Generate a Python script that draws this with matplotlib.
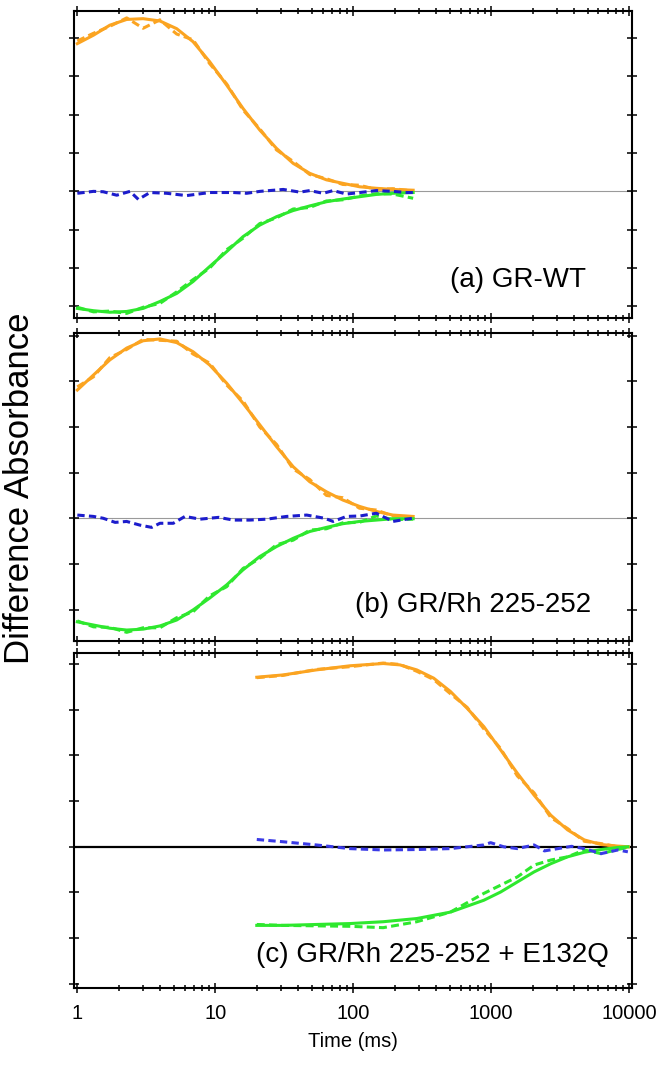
import numpy as np
import matplotlib
matplotlib.use("Agg")
import matplotlib.pyplot as plt
from matplotlib.ticker import LogLocator, NullFormatter, FixedLocator, FixedFormatter

plt.rcParams['font.family'] = ['Liberation Sans', 'DejaVu Sans']

# ---------------- panel (a) GR-WT ----------------
t_a = [1.00, 1.31, 1.72, 2.28, 3.0, 3.97, 5.25, 6.9, 9.1, 12.1, 15.9, 21, 27.8,
       36.7, 48.4, 64, 84, 111, 147, 194, 272]
orange_fit_a = [3.85, 4.07, 4.33, 4.48, 4.50, 4.44, 4.24, 3.90, 3.38, 2.77, 2.16,
                1.60, 1.12, 0.73, 0.47, 0.30, 0.21, 0.12, 0.08, 0.05, 0.03]
orange_dat_a = [3.92, 4.12, 4.30, 4.52, 4.25, 4.47, 4.10, 3.95, 3.33, 2.80, 2.12,
                1.63, 1.08, 0.78, 0.44, 0.33, 0.18, 0.16, 0.05, 0.07, 0.01]
green_fit_a = [-3.05, -3.11, -3.15, -3.13, -3.05, -2.87, -2.66, -2.35, -1.96, -1.57,
               -1.18, -0.88, -0.66, -0.50, -0.38, -0.27, -0.20, -0.14, -0.08, -0.05, -0.03]
green_dat_a = [-3.02, -3.14, -3.12, -3.18, -3.02, -2.92, -2.62, -2.30, -2.00, -1.52,
               -1.22, -0.84, -0.69, -0.46, -0.42, -0.25, -0.22, -0.12, -0.06, -0.07, -0.18]
t_blue_a = [1.00, 1.31, 1.54, 1.93, 2.41, 2.77, 3.36, 4.44, 6.19, 9.15, 13.5, 16.9,
            21.1, 31.1, 41.1, 48.4, 60.6, 71.6, 89.3, 112, 147, 194, 243, 272]
blue_a = [-0.05, 0.0, -0.01, -0.10, 0.0, -0.21, -0.03, -0.05, -0.11, -0.03, -0.03,
          -0.05, 0.0, 0.05, -0.02, 0.02, -0.05, 0.02, -0.07, -0.03, 0.02, 0.0, -0.03, -0.03]

# ---------------- panel (b) GR/Rh 225-252 ----------------
t_b = t_a
orange_fit_b = [2.81, 3.14, 3.47, 3.73, 3.89, 3.93, 3.85, 3.65, 3.36, 2.96, 2.52,
                2.05, 1.57, 1.13, 0.80, 0.58, 0.40, 0.26, 0.15, 0.07, 0.04]
orange_dat_b = [2.88, 3.10, 3.52, 3.70, 3.92, 3.90, 3.88, 3.60, 3.40, 2.92, 2.57,
                2.00, 1.62, 1.08, 0.85, 0.50, 0.45, 0.22, 0.18, 0.05, 0.03]
green_fit_b = [-2.27, -2.34, -2.41, -2.45, -2.43, -2.36, -2.23, -2.01, -1.75, -1.46,
               -1.13, -0.84, -0.62, -0.44, -0.29, -0.20, -0.12, -0.07, -0.04, -0.01, -0.01]
green_dat_b = [-2.25, -2.38, -2.39, -2.50, -2.40, -2.40, -2.18, -2.05, -1.70, -1.50,
               -1.10, -0.88, -0.58, -0.48, -0.26, -0.23, -0.10, -0.09, 0.05, -0.03, -0.02]
t_blue_b = [1.00, 1.31, 1.54, 1.88, 2.28, 2.84, 3.46, 3.97, 4.96, 6.03, 7.76, 10.6,
            13.5, 17.8, 23.6, 32.9, 46.0, 61.9, 71.6, 89.3, 112, 147, 194, 243, 272]
blue_b = [0.07, 0.04, 0.0, -0.09, -0.07, -0.15, -0.20, -0.11, -0.11, 0.04, -0.02, 0.02,
          -0.04, -0.04, -0.02, 0.04, 0.07, 0.0, -0.07, 0.04, 0.05, 0.11, -0.07, -0.02, 0.0]

# ---------------- panel (c) GR/Rh 225-252 + E132Q ----------------
t_c = [20, 31, 54, 94.6, 165, 218, 289, 383, 506, 670, 885, 1171, 1548, 2048,
       2708, 3581, 4737, 6263, 8282, 9900]
orange_fit_c = [3.71, 3.76, 3.87, 3.96, 4.01, 3.98, 3.87, 3.69, 3.40, 3.03, 2.63,
                2.12, 1.61, 1.13, 0.69, 0.37, 0.15, 0.05, 0.015, 0.0]
orange_dat_c = [3.70, 3.75, 3.88, 3.94, 4.02, 3.99, 3.84, 3.66, 3.35, 3.05, 2.58,
                2.15, 1.55, 1.18, 0.64, 0.40, 0.12, 0.07, 0.0, -0.02]
t_green_c = [20, 31, 54, 94.6, 165, 289, 506, 885, 1171, 1548, 2048, 2708, 3581,
             4737, 6263, 8282, 9800]
green_fit_c = [-1.72, -1.72, -1.70, -1.68, -1.64, -1.57, -1.43, -1.17, -0.99, -0.77,
               -0.55, -0.37, -0.22, -0.12, -0.06, -0.015, 0.0]
green_dat_c = [-1.70, -1.72, -1.73, -1.74, -1.77, -1.64, -1.43, -1.02, -0.84, -0.66,
               -0.40, -0.29, -0.22, -0.07, -0.15, -0.06, -0.01]
t_blue_c = [20, 31, 54, 94.6, 165, 289, 506, 885, 991, 1233, 1548, 2048, 2434, 3050,
            3830, 4737, 6263, 8282, 9800]
blue_c = [0.16, 0.11, 0.04, -0.04, -0.07, -0.06, -0.04, 0.04, 0.09, 0.0, -0.04, 0.04,
          -0.09, -0.04, 0.01, -0.04, -0.15, -0.07, -0.11]

labels = ["(a) GR-WT", "(b) GR/Rh 225-252", "(c) GR/Rh 225-252 + E132Q"]
xticks = [1, 10, 100, 1000, 10000]
xticklabels = ["1", "10", "100", "1000", "10000"]

ORANGE = '#FBA421'
GREEN = '#2EE82E'
BLUE = '#1C1CCC'
BLUE_C = '#3A3AE6'

W, H = 664, 1065
fig = plt.figure(figsize=(W / 100, H / 100), dpi=100)

def px_axes(top, bottom, left=74, right=632):
    return fig.add_axes([left / W, 1 - bottom / H, (right - left) / W, (bottom - top) / H])

ax_a = px_axes(11, 318)
ax_b = px_axes(333, 641)
ax_c = px_axes(653, 988)

panels = [
    (ax_a, (-3.30, 4.70), t_a, orange_fit_a, orange_dat_a, t_a, green_fit_a, green_dat_a, t_blue_a, blue_a, BLUE),
    (ax_b, (-2.69, 4.06), t_b, orange_fit_b, orange_dat_b, t_b, green_fit_b, green_dat_b, t_blue_b, blue_b, BLUE),
    (ax_c, (-3.09, 4.24), t_c, orange_fit_c, orange_dat_c, t_green_c, green_fit_c, green_dat_c, t_blue_c, blue_c, BLUE_C),
]
label_pos = [(0.674, 0.124), (0.504, 0.117), (0.327, 0.100)]

for i, (ax, ylim, to, ofit, odat, tg, gfit, gdat, tb, bl, bcol) in enumerate(panels):
    ax.set_xscale('log')
    ax.set_xlim(0.946, 10500)
    ax.set_ylim(*ylim)
    if i < 2:
        ax.axhline(0, color='#9a9a9a', lw=0.8, zorder=1)
    else:
        ax.axhline(0, color='black', lw=1.6, zorder=1)

    ax.plot(to, odat, color=ORANGE, lw=2.2, ls=(0, (2.6, 1.4)), zorder=2)
    ax.plot(tg, gdat, color=GREEN, lw=2.2, ls=(0, (2.6, 1.4)), zorder=2)
    ax.plot(to, ofit, color=ORANGE, lw=2.2, zorder=3)
    ax.plot(tg, gfit, color=GREEN, lw=2.2, zorder=3)
    ax.plot(tb, bl, color=bcol, lw=2.2, ls=(0, (2.4, 1.4)), zorder=4)

    for s in ax.spines.values():
        s.set_linewidth(1.5)
    ax.xaxis.set_major_locator(FixedLocator(xticks))
    ax.xaxis.set_minor_locator(LogLocator(base=10, subs=np.arange(2, 10)))
    ax.xaxis.set_minor_formatter(NullFormatter())
    ax.yaxis.set_major_locator(FixedLocator(list(range(-4, 6))))
    ax.tick_params(which='major', direction='inout', length=7.5, width=1.1,
                   top=True, right=True, labelleft=False)
    ax.tick_params(which='minor', direction='inout', length=4.5, width=1.1,
                   top=True, right=True)
    if i < 2:
        ax.tick_params(labelbottom=False)
    else:
        ax.xaxis.set_major_formatter(FixedFormatter(xticklabels))
        ax.tick_params(axis='x', labelsize=14.5, pad=8)
        ax.set_xlabel("Time (ms)", fontsize=14.5, labelpad=6)

    ax.text(label_pos[i][0], label_pos[i][1], labels[i], transform=ax.transAxes,
            fontsize=20, ha='left', va='center')

fig.text(20 / W, 1 - 488 / H, "Difference Absorbance", rotation=90,
         fontsize=25, ha='center', va='center')

fig.savefig("out.png", dpi=100)
